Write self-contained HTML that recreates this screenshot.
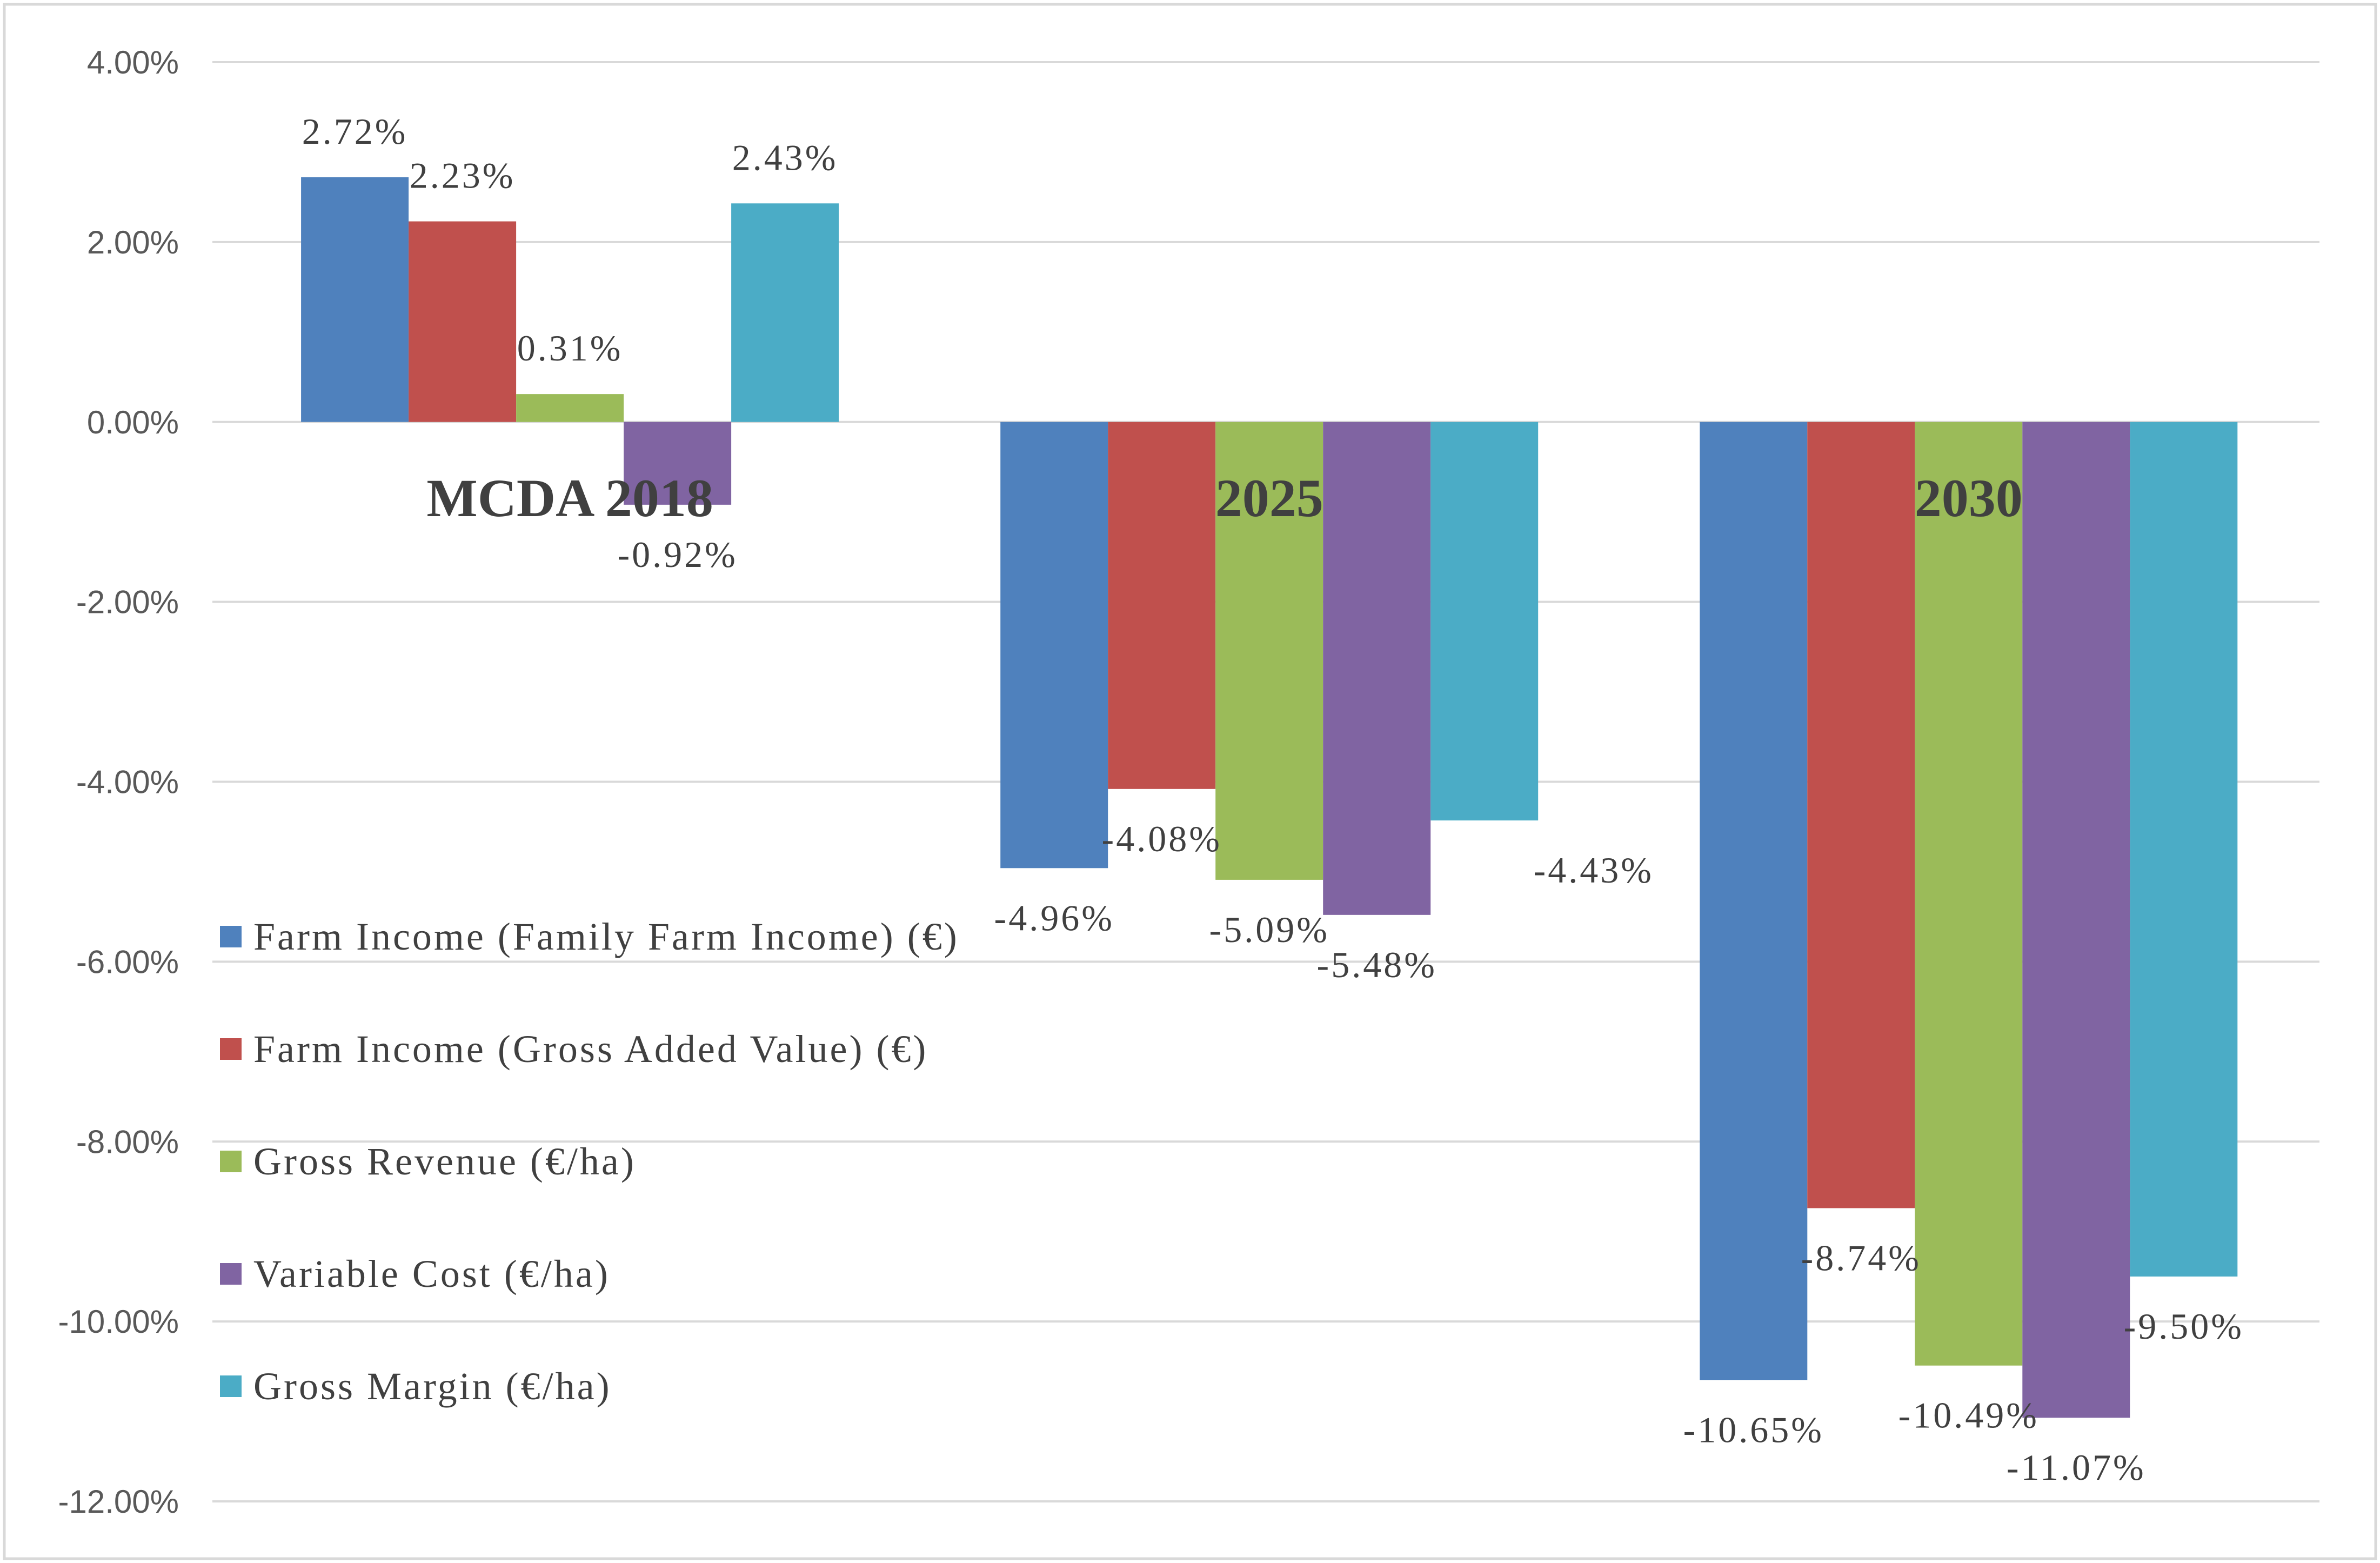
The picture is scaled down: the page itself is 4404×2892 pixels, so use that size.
<!DOCTYPE html>
<html><head><meta charset="utf-8"><style>
html,body{margin:0;padding:0;background:#fff;}
svg{display:block;}
</style></head><body>
<svg id="chart" width="4404" height="2892" xmlns="http://www.w3.org/2000/svg">
<rect x="8" y="8" width="4388" height="2876" fill="#fff" stroke="#d9d9d9" stroke-width="5"/>
<g id="grid"></g><g id="bars"></g><g id="labels"></g><g id="legend"></g>
</svg>
<script>
const categories = ["MCDA 2018", "2025", "2030"];
const seriesNames = ["Farm Income (Family Farm Income) (€)", "Farm Income (Gross Added Value) (€)", "Gross Revenue (€/ha)", "Variable Cost (€/ha)", "Gross Margin (€/ha)"];
const familyFarmIncome = [2.72, -4.96, -10.65];
const grossAddedValue = [2.23, -4.08, -8.74];
const grossRevenue = [0.31, -5.09, -10.49];
const variableCost = [-0.92, -5.48, -11.07];
const grossMargin = [2.43, -4.43, -9.50];
const tickValues = [4, 2, 0, -2, -4, -6, -8, -10, -12];

const series = [familyFarmIncome, grossAddedValue, grossRevenue, variableCost, grossMargin];
const colors = ["#4f81bd", "#c0504d", "#9bbb59", "#8064a2", "#4bacc6"];
const NS = "http://www.w3.org/2000/svg";
const plotL = 393, plotR = 4292, yTop = 115, yBot = 2778;
const yMax = 4, yMin = -12;
function y(v){ return yTop + (yMax - v) / (yMax - yMin) * (yBot - yTop); }
const catStart = 1054.6, catStep = 1294.1;
function xCat(ci){ return catStart + catStep * ci; }
const barW = 199;
function xBar(ci, si){ return xCat(ci) - barW*2.5 + barW*si; }
function mk(tag, attrs, parent){ const e = document.createElementNS(NS, tag); for (const k in attrs) e.setAttribute(k, attrs[k]); parent.appendChild(e); return e; }

const grid = document.getElementById('grid');
tickValues.forEach(t => {
  const l = mk('line', {x1: plotL, x2: plotR, y1: y(t), y2: y(t), stroke: '#d9d9d9', 'stroke-width': 4}, grid);
  
  
  const tx = mk('text', {x: 331, y: y(t) + 21, 'text-anchor': 'end', 'font-family': 'Liberation Sans, sans-serif', 'font-size': 60, fill: '#595959'}, grid);
  tx.textContent = t.toFixed(2) + '%';
  
  
});

const bars = document.getElementById('bars');
const labels = document.getElementById('labels');
series.forEach((vals, si) => {
  vals.forEach((v, ci) => {
    const x0 = xBar(ci, si);
    const top = Math.min(y(v), y(0)), h = Math.abs(y(v) - y(0));
    const r = mk('rect', {x: x0, y: top, width: barW, height: h, fill: colors[si]}, bars);
    
    
    const dx = (si === 4 && ci === 1) ? 202 : 0;
    const ly = v >= 0 ? y(v) - 84 + 22 : y(v) + 93 + 22;
    const t = mk('text', {x: x0 + barW/2 + dx, y: ly, 'text-anchor': 'middle', 'font-family': 'Liberation Serif, serif', 'font-size': 68, 'letter-spacing': 4, fill: '#404040'}, labels);
    t.textContent = v.toFixed(2) + '%';
    
    
  });
});

categories.forEach((c, ci) => {
  const t = mk('text', {x: xCat(ci), y: y(-0.85) + 33, 'text-anchor': 'middle', 'font-family': 'Liberation Serif, serif', 'font-size': 100, 'font-weight': 'bold', fill: '#404040'}, labels);
  t.textContent = c;
  
  
});

const legend = document.getElementById('legend');
seriesNames.forEach((n, si) => {
  const cy = 1733 + si * 208;
  const g = mk('g', {}, legend);
  
  
  mk('rect', {x: 407, y: cy - 20, width: 40, height: 40, fill: colors[si]}, g);
  const t = mk('text', {x: 469, y: cy + 24, 'font-family': 'Liberation Serif, serif', 'font-size': 72, 'letter-spacing': 4, fill: '#404040'}, g);
  t.textContent = n;
});
</script>
</body></html>
